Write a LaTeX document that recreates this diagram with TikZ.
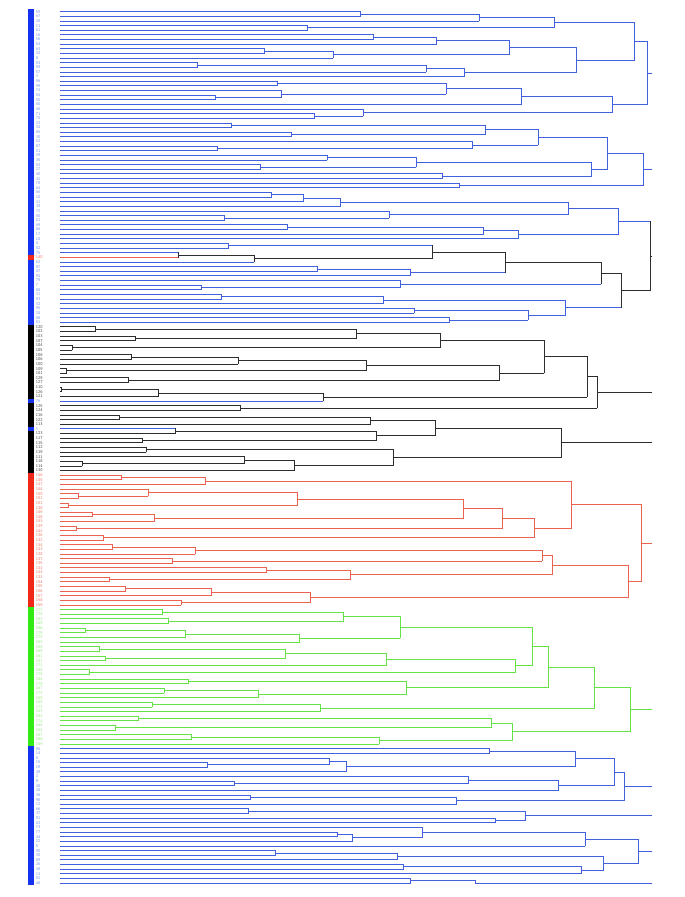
\documentclass[tikz,border=0pt]{standalone}
\usetikzlibrary{calc}
\definecolor{lnb}{RGB}{64,96,221}
\definecolor{lnk}{RGB}{45,45,45}
\definecolor{lnr}{RGB}{236,98,80}
\definecolor{lng}{RGB}{100,226,70}
\definecolor{sqb}{RGB}{20,50,240}
\definecolor{sqk}{RGB}{0,0,0}
\definecolor{sqr}{RGB}{240,40,25}
\definecolor{sqg}{RGB}{50,235,20}
\definecolor{txb}{RGB}{120,150,240}
\definecolor{txk}{RGB}{70,70,70}
\definecolor{txr}{RGB}{240,120,100}
\definecolor{txg}{RGB}{150,235,130}
\tikzset{
  lab/.style={font=\sffamily\fontsize{3.2}{3.5}\selectfont, inner sep=0pt, anchor=west},
  every path/.style={line width=0.65pt, line cap=rect}
}
% one link of the tree: colour, new name, two children, height
\newcommand\mrg[5][lnb]{%
  \coordinate (h) at (#5,0);
  \edef\colA{\csname col-#3\endcsname}\edef\colB{\csname col-#4\endcsname}%
  \draw[color=\colA] (#3) -- (#3 -| h);
  \draw[color=\colB] (#4) -- (#4 -| h);
  \draw[color=#1] (#3 -| h) -- (#4 -| h);
  \coordinate (#2) at ($(#3 -| h)!0.5!(#4 -| h)$);
  \expandafter\gdef\csname col-#2\endcsname{#1}}
\newcommand\stub[2][lnb]{\draw[color=#1] (#2) -- (#2 -| rx);}

\begin{document}
\begin{tikzpicture}[x=0.75pt,y=0.75pt,yscale=-1]
\useasboundingbox (0,0) rectangle (685,897);
\coordinate (rx) at (652,0);

% leaves, colour bar and labels
\foreach \lab/\cl [count=\i from 0] in {50/b,67/b,20/b,11/b,61/b,16/b,58/b,54/b,63/b,33/b,
  8/b,53/b,59/b,57/b,3/b,56/b,99/b,74/b,84/b,55/b,60/b,45/b,71/b,70/b,23/b,34/b,85/b,30/b,52/b,87/b,
  21/b,29/b,35/b,83/b,27/b,40/b,42/b,78/b,64/b,65/b,10/b,41/b,39/b,72/b,80/b,81/b,69/b,86/b,17/b,18/b,
  4/b,82/b,75/b,140/r,62/b,97/b,47/b,94/b,79/b,7/b,88/b,31/b,93/b,32/b,95/b,24/b,68/b,51/b,
  120/k,102/k,103/k,107/k,104/k,105/k,108/k,106/k,100/k,109/k,101/k,129/k,127/k,110/k,126/k,121/k,
  76/b,125/k,124/k,116/k,122/k,113/k,1/b,123/k,117/k,115/k,112/k,119/k,111/k,118/k,114/k,130/k,
  146/r,145/r,147/r,144/r,150/r,151/r,152/r,138/r,149/r,148/r,153/r,139/r,142/r,136/r,132/r,134/r,
  133/r,128/r,137/r,135/r,141/r,143/r,131/r,154/r,155/r,156/r,157/r,158/r,159/r,
  177/g,170/g,183/g,160/g,186/g,175/g,179/g,162/g,165/g,168/g,161/g,181/g,171/g,180/g,176/g,184/g,
  178/g,167/g,172/g,169/g,185/g,173/g,163/g,182/g,174/g,166/g,164/g,187/g,188/g,189/g,
  96/b,14/b,6/b,15/b,19/b,49/b,2/b,9/b,48/b,28/b,36/b,98/b,12/b,66/b,37/b,91/b,43/b,73/b,77/b,44/b,
  22/b,5/b,90/b,25/b,89/b,26/b,38/b,13/b,92/b,46/b}{
  \coordinate (l\i) at (60,{11.7+4.635*\i});
  \fill[fill=sq\cl] (28,{9.38+4.635*\i}) rectangle (33.5,{14.02+4.635*\i});
  \node[lab, text=tx\cl] (t\i) at (35.5,{11.7+4.635*\i}) {\lab};
  \expandafter\xdef\csname col-l\i\endcsname{ln\cl}
}

% cluster A
\mrg{a1}{l0}{l1}{360} \mrg{a2}{a1}{l2}{479} \mrg{a3}{l3}{l4}{307} \mrg{a4}{a2}{a3}{554}
\mrg{a5}{l5}{l6}{373} \mrg{a6}{a5}{l7}{436} \mrg{a7}{l8}{l9}{264} \mrg{a8}{a7}{l10}{333}
\mrg{a9}{a6}{a8}{509} \mrg{a10}{l11}{l12}{197} \mrg{a11}{a10}{l13}{426} \mrg{a12}{a11}{l14}{464}
\mrg{a13}{a9}{a12}{576} \mrg{a14}{a4}{a13}{634}
\mrg{a15}{l15}{l16}{277} \mrg{a16}{l18}{l19}{215} \mrg{a17}{l17}{a16}{281} \mrg{a18}{a15}{a17}{446}
\mrg{a19}{a18}{l20}{521} \mrg{a20}{l22}{l23}{314} \mrg{a21}{l21}{a20}{363} \mrg{a22}{a19}{a21}{612}
\mrg{a23}{a14}{a22}{647} \stub{a23}

% cluster B
\mrg{b1}{l24}{l25}{231} \mrg{b2}{l26}{l27}{291} \mrg{b3}{b1}{b2}{485} \mrg{b4}{l29}{l30}{217}
\mrg{b5}{l28}{b4}{472} \mrg{b6}{b3}{b5}{538} \mrg{b7}{l31}{l32}{327} \mrg{b8}{l33}{l34}{260}
\mrg{b9}{b7}{b8}{416} \mrg{b10}{l35}{l36}{442} \mrg{b11}{b9}{b10}{591} \mrg{b12}{b6}{b11}{607}
\mrg{b13}{l37}{l38}{459} \mrg{b14}{b12}{b13}{643} \stub{b14}

% cluster C
\mrg{c1}{l39}{l40}{271} \mrg{c2}{c1}{l41}{303} \mrg{c3}{c2}{l42}{340} \mrg{c4}{l44}{l45}{224}
\mrg{c5}{l43}{c4}{389} \mrg{c6}{c3}{c5}{568} \mrg{c7}{l46}{l47}{287} \mrg{c8}{c7}{l48}{483}
\mrg{c9}{c8}{l49}{518} \mrg{c10}{c6}{c9}{618}
\mrg{c11}{l50}{l51}{228} \mrg[lnk]{c12}{l52}{l53}{178} \mrg[lnk]{c13}{c12}{l54}{254}
\mrg[lnk]{c14}{c11}{c13}{432} \mrg{c15}{l55}{l56}{317} \mrg{c16}{c15}{l57}{410}
\mrg[lnk]{c17}{c14}{c16}{505} \mrg{c18}{l59}{l60}{201} \mrg{c19}{l58}{c18}{400}
\mrg[lnk]{c20}{c17}{c19}{601} \mrg{c21}{l61}{l62}{221} \mrg{c22}{c21}{l63}{383}
\mrg{c23}{l64}{l65}{414} \mrg{c24}{l66}{l67}{449} \mrg{c25}{c23}{c24}{528} \mrg{c26}{c22}{c25}{565}
\mrg[lnk]{c27}{c20}{c26}{621} \mrg[lnk]{c28}{c10}{c27}{650} \stub[lnk]{c28}

% cluster D
\mrg[lnk]{d1}{l68}{l69}{95} \mrg[lnk]{d2}{l70}{l71}{135} \mrg[lnk]{d3}{d1}{d2}{356}
\mrg[lnk]{d4}{l72}{l73}{72} \mrg[lnk]{d5}{d3}{d4}{440} \mrg[lnk]{d6}{l74}{l75}{131}
\mrg[lnk]{d7}{d6}{l76}{238} \mrg[lnk]{d8}{l77}{l78}{66} \mrg[lnk]{d9}{d7}{d8}{366}
\mrg[lnk]{d10}{l79}{l80}{128} \mrg[lnk]{d11}{d9}{d10}{499} \mrg[lnk]{d12}{d5}{d11}{544}
\mrg[lnk]{d13}{l81}{l82}{61.5} \mrg[lnk]{d14}{d13}{l83}{158} \mrg[lnk]{d15}{d14}{l84}{323}
\mrg[lnk]{d16}{d12}{d15}{587} \mrg[lnk]{d17}{l85}{l86}{240} \mrg[lnk]{d18}{d16}{d17}{597}
\stub[lnk]{d18}

% cluster E
\mrg[lnk]{e1}{l87}{l88}{119} \mrg[lnk]{e2}{e1}{l89}{370} \mrg[lnk]{e3}{l90}{l91}{175}
\mrg[lnk]{e4}{l92}{l93}{142} \mrg[lnk]{e5}{e3}{e4}{376} \mrg[lnk]{e6}{e2}{e5}{435}
\mrg[lnk]{e7}{l94}{l95}{146} \mrg[lnk]{e8}{l97}{l98}{82} \mrg[lnk]{e9}{l96}{e8}{244}
\mrg[lnk]{e10}{e9}{l99}{294} \mrg[lnk]{e11}{e7}{e10}{393} \mrg[lnk]{e12}{e6}{e11}{561}
\stub[lnk]{e12}

% cluster F
\mrg[lnr]{f1}{l100}{l101}{121} \mrg[lnr]{f2}{f1}{l102}{205} \mrg[lnr]{f3}{l104}{l105}{78.6}
\mrg[lnr]{f4}{l103}{f3}{148} \mrg[lnr]{f5}{l106}{l107}{68.6} \mrg[lnr]{f6}{f4}{f5}{297}
\mrg[lnr]{f7}{l108}{l109}{92.7} \mrg[lnr]{f8}{f7}{l110}{154} \mrg[lnr]{f9}{f6}{f8}{463}
\mrg[lnr]{f10}{l111}{l112}{76} \mrg[lnr]{f11}{f9}{f10}{502} \mrg[lnr]{f12}{l113}{l114}{103}
\mrg[lnr]{f13}{f11}{f12}{534} \mrg[lnr]{f14}{f2}{f13}{571}
\mrg[lnr]{f15}{l115}{l116}{112} \mrg[lnr]{f16}{f15}{l117}{195} \mrg[lnr]{f17}{l118}{l119}{172}
\mrg[lnr]{f18}{f16}{f17}{542} \mrg[lnr]{f19}{l120}{l121}{266} \mrg[lnr]{f20}{l122}{l123}{109}
\mrg[lnr]{f21}{f19}{f20}{350} \mrg[lnr]{f22}{f18}{f21}{552} \mrg[lnr]{f23}{l124}{l125}{125}
\mrg[lnr]{f24}{f23}{l126}{211} \mrg[lnr]{f25}{l127}{l128}{181} \mrg[lnr]{f26}{f24}{f25}{310}
\mrg[lnr]{f27}{f22}{f26}{628} \mrg[lnr]{f28}{f14}{f27}{641} \stub[lnr]{f28}

% cluster G
\mrg[lng]{g1}{l129}{l130}{162} \mrg[lng]{g2}{l131}{l132}{168} \mrg[lng]{g3}{g1}{g2}{343}
\mrg[lng]{g4}{l133}{l134}{85} \mrg[lng]{g5}{g4}{l135}{185} \mrg[lng]{g6}{g5}{l136}{299}
\mrg[lng]{g7}{g3}{g6}{400} \mrg[lng]{g8}{l137}{l138}{99} \mrg[lng]{g9}{l139}{l140}{105}
\mrg[lng]{g10}{g8}{g9}{285} \mrg[lng]{g11}{g10}{l141}{386} \mrg[lng]{g12}{l142}{l143}{89}
\mrg[lng]{g13}{g11}{g12}{515} \mrg[lng]{g14}{g7}{g13}{532}
\mrg[lng]{g15}{l144}{l145}{188} \mrg[lng]{g16}{l146}{l147}{164} \mrg[lng]{g17}{g16}{l148}{258}
\mrg[lng]{g18}{g15}{g17}{406} \mrg[lng]{g19}{g14}{g18}{548} \mrg[lng]{g20}{l149}{l150}{152}
\mrg[lng]{g21}{g20}{l151}{320} \mrg[lng]{g22}{g19}{g21}{594}
\mrg[lng]{g23}{l152}{l153}{138} \mrg[lng]{g24}{l154}{l155}{115} \mrg[lng]{g25}{g23}{g24}{491}
\mrg[lng]{g26}{l156}{l157}{191} \mrg[lng]{g27}{g26}{l158}{379} \mrg[lng]{g28}{g25}{g27}{512}
\mrg[lng]{g29}{g22}{g28}{630} \stub[lng]{g29}

% clusters H to K
\mrg{h1}{l159}{l160}{489} \mrg{h2}{l162}{l163}{207} \mrg{h3}{l161}{h2}{329} \mrg{h4}{h3}{l164}{346}
\mrg{h5}{h1}{h4}{575} \mrg{h6}{l166}{l167}{234} \mrg{h7}{l165}{h6}{468} \mrg{h8}{h7}{l168}{558}
\mrg{h9}{h5}{h8}{614} \mrg{h10}{l169}{l170}{250} \mrg{h11}{h10}{l171}{456} \mrg{h12}{h9}{h11}{624}
\stub{h12}
\mrg{i1}{l172}{l173}{248} \mrg{i2}{l174}{l175}{495} \mrg{i3}{i1}{i2}{525} \stub{i3}
\mrg{j1}{l177}{l178}{337} \mrg{j2}{j1}{l179}{352} \mrg{j3}{l176}{j2}{422} \mrg{j4}{j3}{l180}{585}
\mrg{j5}{l181}{l182}{275} \mrg{j6}{j5}{l183}{397} \mrg{j7}{l184}{l185}{403} \mrg{j8}{j7}{l186}{581}
\mrg{j9}{j6}{j8}{603} \mrg{j10}{j4}{j9}{638} \stub{j10}
\mrg{k1}{l187}{l188}{410}
\coordinate (kx) at (475,0);
\draw[lnb] (k1) -- (k1 -| kx) -- (l188 -| kx) -- (l188 -| rx);
\end{tikzpicture}
\end{document}
